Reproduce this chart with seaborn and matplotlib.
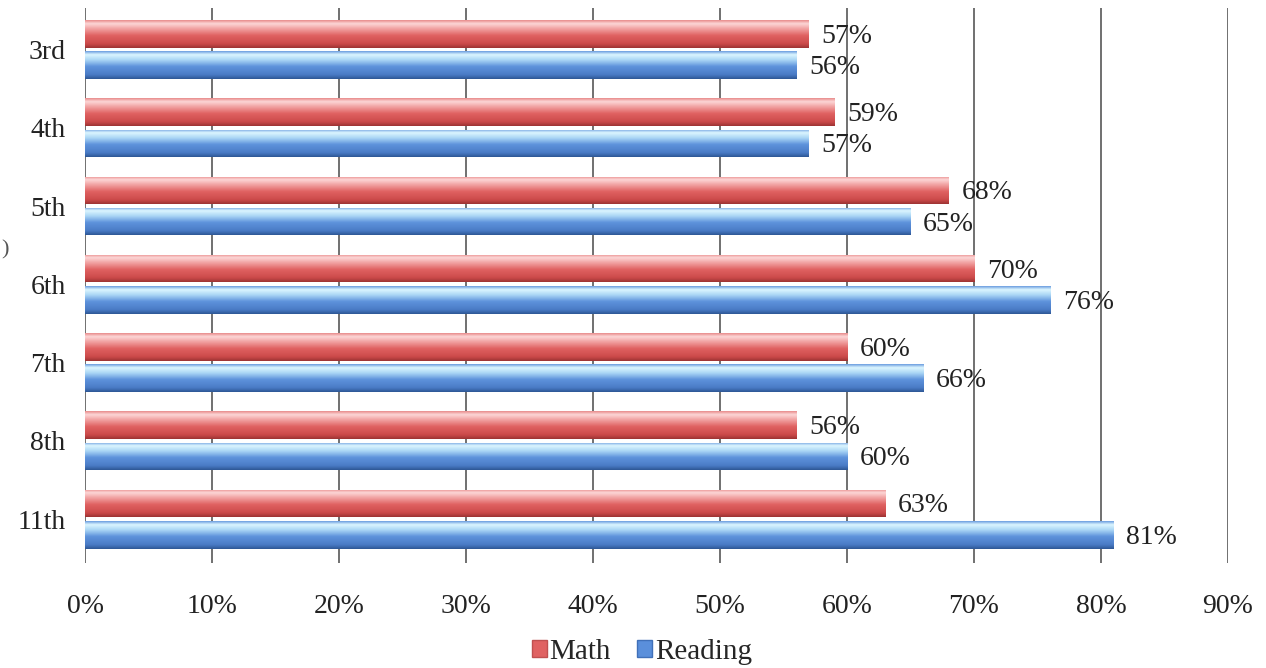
import numpy as np
import pandas as pd
import matplotlib
matplotlib.use("Agg")
import matplotlib.pyplot as plt
from matplotlib.colors import LinearSegmentedColormap
from matplotlib.patches import Patch
import seaborn as sns

grades = ["3rd", "4th", "5th", "6th", "7th", "8th", "11th"]
math_pct = [57, 59, 68, 70, 60, 56, 63]
reading_pct = [56, 57, 65, 76, 66, 60, 81]
subjects = ["Math", "Reading"]
x_ticks = [0, 10, 20, 30, 40, 50, 60, 70, 80, 90]

df = pd.DataFrame({
    "Grade": grades * 2,
    "Subject": ["Math"] * len(grades) + ["Reading"] * len(grades),
    "Percent": math_pct + reading_pct,
})

sns.set_theme(style="white")
plt.rcParams["font.family"] = ["Liberation Serif", "DejaVu Serif"]

fig = plt.figure(figsize=(12.66, 6.68), dpi=100)
ax = fig.add_axes([85 / 1266, 1 - 563 / 668, (1228 - 85) / 1266, (563 - 8) / 668])

palette = {"Math": "#e06262", "Reading": "#5a8fdb"}
sns.barplot(data=df, y="Grade", x="Percent", hue="Subject", order=grades,
            hue_order=subjects, palette=palette, orient="h", width=0.8,
            gap=0.12, ax=ax, legend=False, zorder=3, edgecolor="none")

red_cmap = LinearSegmentedColormap.from_list("r", [
    (0.0, "#e98d8d"), (0.12, "#fcd6d6"), (0.3, "#f2a4a4"),
    (0.55, "#e06262"), (0.85, "#cc4a4a"), (1.0, "#9e3434")])
blue_cmap = LinearSegmentedColormap.from_list("b", [
    (0.0, "#6e9fe0"), (0.12, "#dcf6ff"), (0.32, "#a9d5f5"),
    (0.55, "#5e93dc"), (0.85, "#4a7bc6"), (1.0, "#2e5896")])

grad = np.linspace(0, 1, 64).reshape(-1, 1)
n = len(grades)
for i, p in enumerate(list(ax.patches)):
    cmap = red_cmap if i < n else blue_cmap
    x0, y0 = p.get_x(), p.get_y()
    w, h = p.get_width(), p.get_height()
    im = ax.imshow(grad, cmap=cmap, aspect="auto",
                   extent=(x0, x0 + w, y0 + h, y0), origin="upper",
                   zorder=4, interpolation="bilinear")
    im.set_clip_path(p)

# value labels
for i, p in enumerate(list(ax.patches)):
    val = (math_pct + reading_pct)[i]
    ax.text(p.get_x() + p.get_width() + 1.0, p.get_y() + p.get_height() / 2 + 0.03,
            f"{val}%", va="center", ha="left", fontsize=20, color="#222222", zorder=6)

ax.set_xlim(0, 90)
ax.set_ylim(n - 0.5 + 0.06, -0.5 - 0.03)
ax.set_xticks(x_ticks)
ax.set_xticklabels([f"{t}%" for t in x_ticks], fontsize=20, color="#222222")
ax.set_yticklabels(grades, fontsize=20, color="#222222")
ax.set_xlabel("")
ax.set_ylabel("")
ax.tick_params(axis="x", pad=22, length=0)
ax.tick_params(axis="y", pad=14, length=0)
for s in ax.spines.values():
    s.set_visible(False)
ax.xaxis.grid(True, color="#707070", linewidth=1.4, zorder=1)
ax.yaxis.grid(False)
ax.set_axisbelow(True)

handles = [Patch(facecolor="#e06262", edgecolor="#c05050", label="Math"),
           Patch(facecolor="#5a8fdb", edgecolor="#4070b8", label="Reading")]
fig.legend(handles=handles, loc="center", bbox_to_anchor=(642 / 1266, 1 - 652 / 668),
           ncol=2, frameon=False, fontsize=21, handlelength=0.5, handleheight=0.5,
           handletextpad=0.1, columnspacing=0.9)

fig.text(0.001, 1 - 250 / 668, ")", fontsize=16, color="#555555", ha="left", va="center")

fig.savefig("out.png", dpi=100, facecolor="white")
